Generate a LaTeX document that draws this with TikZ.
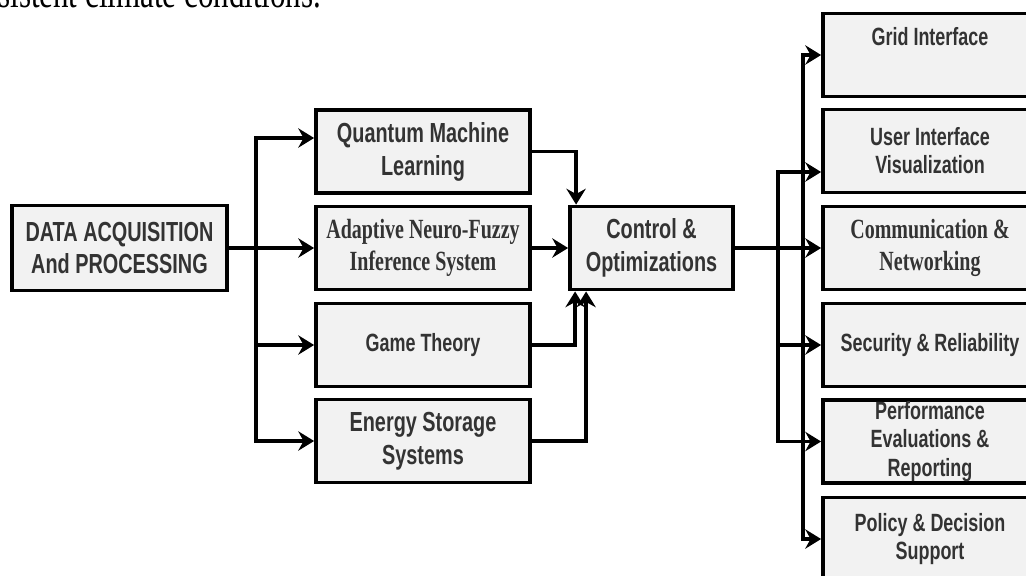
\documentclass[tikz,border=0pt]{standalone}
\usepackage{fontspec}
\setmainfont{Liberation Sans}[FakeStretch=0.72]
\newfontfamily\narrowserif{Liberation Serif}[FakeStretch=0.72]
\usetikzlibrary{arrows.meta}
\begin{document}
\begin{tikzpicture}
[x=0.02cm, y=-0.02cm, font=\bfseries\fontsize{15.7}{18.7}\selectfont]
\tikzstyle{block}=[draw, line width=2.2pt, fill=black!5, text=black!80, align=center, inner sep=0pt, minimum height=1.66cm]
\tikzstyle{midblock}=[block, minimum width=4.28cm]
\tikzstyle{outblock}=[block, minimum width=4.28cm, font=\bfseries\fontsize{14.2}{16}\selectfont]
\tikzstyle{serifblock}=[font=\narrowserif\bfseries\fontsize{15.8}{18.4}\selectfont]
\tikzstyle{link}=[line width=2pt, -{Stealth[length=9pt, width=11pt, inset=3pt]}]
\tikzstyle{wire}=[line width=2pt]

\useasboundingbox (0,0) rectangle (1026,575);
\clip (0,0) rectangle (1026,575);

% line of running text above the figure
\node[anchor=base west, inner sep=0pt, font=\narrowserif\mdseries\fontsize{24.5}{28}\selectfont] (ctx) at (-2,7) {sistent climate conditions.};

% input and methods
\node[block]	(data)	at (119.5,248)	[minimum width=4.3cm, minimum height=1.7cm]	{DATA ACQUISITION\\And PROCESSING};
\node[midblock]	(qml)	at (423,151.5)	{Quantum Machine\\Learning};
\node[midblock, serifblock]	(anfis)	at (423,248)	{Adaptive Neuro-Fuzzy\\Inference System};
\node[midblock, font=\bfseries\fontsize{14.2}{16}\selectfont]	(game)	at (423,345)	{Game Theory};
\node[midblock]	(ess)	at (423,441)	{Energy Storage\\Systems};
\node[block]	(ctrl)	at (651.5,248)	[minimum width=3.26cm]	{Control \&\\Optimizations};

% outputs
\node[outblock]	(grid)	at (930,55)	{Grid Interface\\ \strut};
\node[outblock]	(ui)	at (930,151)	{User Interface\\Visualization};
\node[outblock, serifblock]	(comm)	at (930,248)	{Communication \&\\Networking};
\node[outblock]	(sec)	at (930,345)	{Security \& Reliability};
\node[outblock]	(perf)	at (930,441.5)	{Performance\\Evaluations \&\\Reporting};
\node[outblock]	(policy)	at (930,539)	{Policy \& Decision\\Support};

\coordinate (busL)  at (256,248);
\coordinate (busR1) at (778,248);
\coordinate (busR2) at (803,248);

\draw [wire] (data.east)--(busL);
\draw [link] (busL)--(anfis.west);
\draw [link] (busL) |- ([yshift=0.27cm]qml.west);
\draw [link] (busL) |- (game.west);
\draw [link] (busL) |- (ess.west);

\draw [link] (qml.east) -| ([xshift=0.16cm]ctrl.north west);
\draw [link] (anfis.east)--(ctrl.west);
\draw [link] (game.east) -| ([xshift=0.14cm]ctrl.south west);
\draw [link] (ess.east) -| ([xshift=0.36cm]ctrl.south west);

\draw [link] (ctrl.east)--(comm.west);
\draw [link] (busR2) |- (grid.west);
\draw [link] (busR1) |- ([yshift=-0.42cm]ui.west);
\draw [link] (busR1) |- (sec.west);
\draw [link] (busR1) |- (perf.west);
\draw [link] (busR2) |- (policy.west);
\end{tikzpicture}
\end{document}
